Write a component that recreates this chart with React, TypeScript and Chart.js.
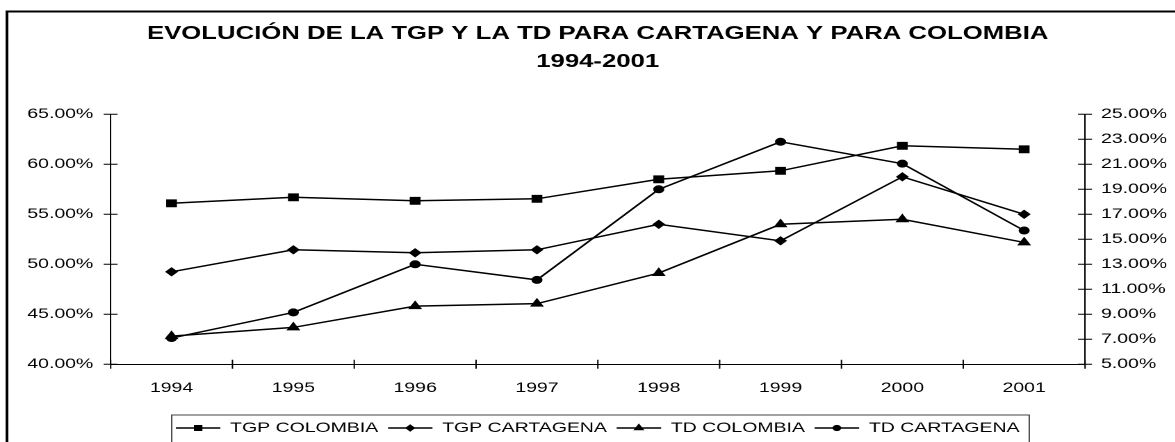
import React, { useEffect, useRef } from 'react';
import { Chart, registerables } from 'chart.js';
import { drawPoint } from 'chart.js/helpers';

Chart.register(...registerables);

// ---- data ----
const categories = ['1994', '1995', '1996', '1997', '1998', '1999', '2000', '2001'];
const tgpColombia = [56.1, 56.7, 56.35, 56.55, 58.5, 59.35, 61.85, 61.5];
const tgpCartagena = [49.25, 51.45, 51.15, 51.45, 54.0, 52.35, 58.75, 55.0];
const tdColombia = [7.25, 7.95, 9.65, 9.85, 12.3, 16.2, 16.6, 14.75];
const tdCartagena = [7.1, 9.15, 13.0, 11.75, 19.0, 22.8, 21.05, 15.7];
const seriesLabels = ['TGP COLOMBIA', 'TGP CARTAGENA', 'TD COLOMBIA', 'TD CARTAGENA'];
const titleLines = ['EVOLUCIÓN DE LA TGP Y LA TD PARA CARTAGENA Y PARA COLOMBIA', '1994-2001'];
const leftRange = { min: 40, max: 65, step: 5 };
const rightRange = { min: 5, max: 25, step: 2 };

// ---- layout ----
const STRETCH = 1.39; // the reference is horizontally stretched
const W0 = 860;
const H = 460;
const FONT = "'Liberation Sans', Arial, Helvetica, sans-serif";
const LEGEND_BOX_W = 32;

const fmt = (v: number) => Number(v).toFixed(2) + '%';

const decorPlugin = {
  id: 'decor',
  beforeDraw(chart: any) {
    const ctx = chart.ctx;
    ctx.save();
    ctx.strokeStyle = '#000';
    ctx.lineWidth = 2;
    ctx.beginPath();
    ctx.moveTo(5, H + 20);
    ctx.lineTo(5, 11.5);
    ctx.lineTo(W0 + 20, 11.5);
    ctx.stroke();
    ctx.restore();
  },
  afterDraw(chart: any) {
    const ctx = chart.ctx;
    const ca = chart.chartArea;
    const yL = chart.scales.y;
    const yR = chart.scales.y1;
    const x = chart.scales.x;
    const hx = 7 / STRETCH;
    ctx.save();
    ctx.strokeStyle = '#000';
    ctx.lineWidth = 1;
    ctx.beginPath();
    yL.ticks.forEach((t: any) => {
      const py = yL.getPixelForValue(t.value);
      ctx.moveTo(ca.left - hx, py);
      ctx.lineTo(ca.left + hx, py);
    });
    yR.ticks.forEach((t: any) => {
      const py = yR.getPixelForValue(t.value);
      ctx.moveTo(ca.right - hx, py);
      ctx.lineTo(ca.right + hx, py);
    });
    const n = categories.length;
    for (let i = 0; i <= n; i++) {
      const px = i === 0 ? ca.left : i === n ? ca.right : (x.getPixelForValue(i - 1) + x.getPixelForValue(i)) / 2;
      ctx.moveTo(px, ca.bottom - 4.5);
      ctx.lineTo(px, ca.bottom + 4.5);
    }
    ctx.stroke();

    // legend frame + markers
    const hbs = chart.legend.legendHitBoxes;
    if (hbs && hbs.length) {
      const first = hbs[0];
      const last = hbs[hbs.length - 1];
      const cy = first.top + first.height / 2;
      ctx.strokeStyle = '#444';
      ctx.lineWidth = 1;
      ctx.strokeRect(first.left - 3, cy - 13, last.left + last.width + 7 - (first.left - 3), 28);
      hbs.forEach((hb: any, i: number) => {
        const ds = chart.data.datasets[i];
        ctx.fillStyle = '#000';
        ctx.strokeStyle = '#000';
        ctx.lineWidth = 1;
        drawPoint(ctx, { pointStyle: ds.pointStyle, rotation: 0, radius: ds.pointRadius * 0.75, borderWidth: 1 }, hb.left + LEGEND_BOX_W / 2, hb.top + hb.height / 2);
      });
    }
    ctx.restore();
  },
};

export default function App() {
  const ref = useRef<HTMLCanvasElement | null>(null);
  useEffect(() => {
    document.body.style.margin = '0';
    const common = {
      borderColor: '#000',
      backgroundColor: '#000',
      pointBackgroundColor: '#000',
      pointBorderColor: '#000',
      pointBorderWidth: 1,
      borderWidth: 1.5,
      tension: 0,
      fill: false,
    };
    const chart = new Chart(ref.current as HTMLCanvasElement, {
      type: 'line',
      data: {
        labels: categories,
        datasets: [
          { ...common, label: seriesLabels[0], data: tgpColombia, yAxisID: 'y', pointStyle: 'rect', pointRadius: 4.8 },
          { ...common, label: seriesLabels[1], data: tgpCartagena, yAxisID: 'y', pointStyle: 'rectRot', pointRadius: 4 },
          { ...common, label: seriesLabels[2], data: tdColombia, yAxisID: 'y1', pointStyle: 'triangle', pointRadius: 4.8 },
          { ...common, label: seriesLabels[3], data: tdCartagena, yAxisID: 'y1', pointStyle: 'circle', pointRadius: 3.5 },
        ],
      },
      options: {
        animation: false,
        responsive: false,
        devicePixelRatio: 2,
        layout: { padding: { left: 0, right: 0, top: 0, bottom: 15 } },
        plugins: {
          tooltip: { enabled: false },
          title: {
            display: true,
            text: titleLines,
            color: '#000',
            font: { family: FONT, size: 18.5, weight: 'bold', lineHeight: 28 / 18.5 },
            padding: { top: 20, bottom: 38.3 },
          },
          legend: {
            display: true,
            position: 'bottom',
            labels: {
              color: '#000',
              font: { family: FONT, size: 14 },
              boxWidth: LEGEND_BOX_W,
              boxHeight: 0,
              padding: 7,
              generateLabels: (chart: any) =>
                chart.data.datasets.map((ds: any, i: number) => ({
                  text: ds.label,
                  fillStyle: '#000',
                  strokeStyle: '#000',
                  lineWidth: 1.5,
                  hidden: false,
                  datasetIndex: i,
                })),
            },
          },
        },
        scales: {
          x: {
            type: 'category',
            offset: true,
            grid: { display: false, drawTicks: false },
            border: { display: true, color: '#000', width: 1 },
            ticks: { color: '#000', font: { family: FONT, size: 14 }, padding: 15.5, maxRotation: 0, autoSkip: false },
            afterFit: (s: any) => { s.height = 49.7; },
          },
          y: {
            type: 'linear',
            position: 'left',
            min: leftRange.min,
            max: leftRange.max,
            grid: { display: false, drawTicks: false },
            border: { display: true, color: '#000', width: 1 },
            ticks: { stepSize: leftRange.step, color: '#000', font: { family: FONT, size: 14 }, padding: 12.5, callback: (v: any) => fmt(v) },
            afterFit: (s: any) => { s.width = 79.6; },
          },
          y1: {
            type: 'linear',
            position: 'right',
            min: rightRange.min,
            max: rightRange.max,
            grid: { display: false, drawTicks: false },
            border: { display: true, color: '#000', width: 1 },
            ticks: { stepSize: rightRange.step, color: '#000', font: { family: FONT, size: 14 }, padding: 11.5, callback: (v: any) => fmt(v) },
            afterFit: (s: any) => { s.width = 79.4; },
          },
        },
      },
      plugins: [decorPlugin],
    } as any);
    return () => chart.destroy();
  }, []);

  return (
    <div style={{ position: 'fixed', left: 0, top: 0, width: 1175, height: 442, overflow: 'hidden', background: '#fff' }}>
      <div style={{ width: W0, height: H, transform: `scaleX(${STRETCH})`, transformOrigin: '0 0' }}>
        <canvas ref={ref} width={W0} height={H} style={{ display: 'block' }} />
      </div>
    </div>
  );
}
